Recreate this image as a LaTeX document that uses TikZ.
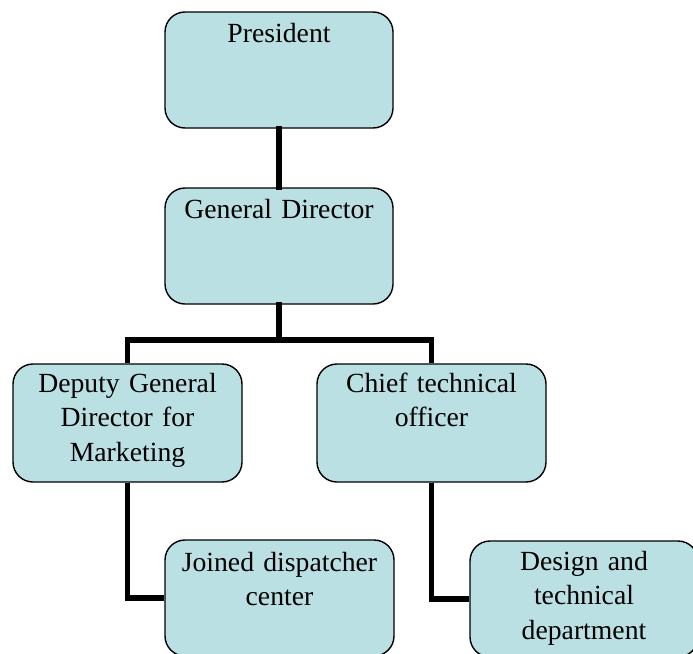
\documentclass[tikz,border=0pt]{standalone}
\usepackage{fontspec}
\setmainfont{Liberation Serif}
\definecolor{boxfill}{RGB}{186,224,227}
\tikzset{
  orgbox/.style={draw=black, line width=1.4pt, fill=boxfill, rounded corners=20pt,
    minimum width=228pt, minimum height=116pt, inner sep=0pt},
  lbl/.style={anchor=base, text width=226pt, align=center, inner sep=0pt,
    font=\fontsize{27.7pt}{34.5pt}\selectfont},
  conn/.style={line width=5.5pt, line cap=rect}
}
\begin{document}
\begin{tikzpicture}[x=1pt,y=-1pt]
\useasboundingbox (0,0) rectangle (693,653);
\clip (0,0) rectangle (693,653);
% boxes
\node[orgbox] (pres) at (279,70) {};
\node[orgbox] (gd) at (279,246) {};
\node[orgbox, minimum width=229pt, minimum height=118pt] (dep) at (127.5,423) {};
\node[orgbox, minimum width=229pt, minimum height=118pt] (cto) at (431.5,423) {};
\node[orgbox, minimum width=229pt] (jdc) at (279.5,598) {};
\node[orgbox] (dtd) at (584,599) {};
% connectors
\coordinate (junc) at (279,340);
\draw[conn] (pres.south) -- (gd.north);
\draw[conn] (gd.south) -- (junc);
\draw[conn, line cap=butt] (dep.north) |- (junc) -| (cto.north);
\draw[conn, line cap=butt] (dep.south) |- (jdc.west);
\draw[conn, line cap=butt] (cto.south) |- (dtd.west);
% labels
\node[lbl] (presT) at ([yshift=-31pt]pres.north) {President};
\node[lbl] (gdT) at ([yshift=-31pt]gd.north) {General Director};
\node[lbl] (depT) at ([yshift=-29pt]dep.north) {Deputy General\\Director for\\Marketing};
\node[lbl] (ctoT) at ([yshift=-29pt]cto.north) {Chief technical\\officer};
\node[lbl] (jdcT) at ([yshift=-32pt]jdc.north) {Joined dispatcher\\center};
\node[lbl] (dtdT) at ([yshift=-30pt]dtd.north) {Design and\\technical\\department};
\end{tikzpicture}
\end{document}
